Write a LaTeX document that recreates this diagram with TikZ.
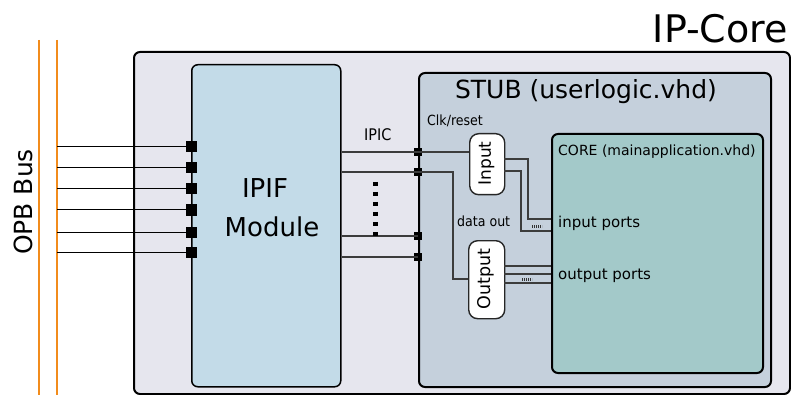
\documentclass[tikz,border=0pt]{standalone}
\usepackage{fontspec}
\setmainfont{DejaVu Sans}
\newfontfamily\condfont{DejaVu Sans Condensed}
\definecolor{orangec}{HTML}{F28C1C}
\definecolor{outerc}{HTML}{E6E6EE}
\definecolor{ipifc}{HTML}{C3DBE8}
\definecolor{stubc}{HTML}{C5D0DC}
\definecolor{corec}{HTML}{A3C9C9}
\definecolor{wirec}{HTML}{3C3C3C}
\begin{document}
\begin{tikzpicture}[x=1pt,y=-1pt,
  box/.style={draw=black, rounded corners=6pt, inner sep=0pt, anchor=north west},
  portbox/.style={draw=black!85, fill=white, rounded corners=9pt, inner sep=0pt, anchor=north west, line width=1.4pt},
  term/.style={fill=black, minimum size=8pt, inner sep=0pt},
  bigterm/.style={fill=black, minimum size=11pt, inner sep=0pt},
  wire/.style={draw=wirec, line width=1.4pt},
  buswire/.style={draw=black, line width=1pt},
  orangebus/.style={draw=orangec, line width=1.6pt},
  lbl/.style={inner sep=0pt, anchor=base west},
  ticks/.style={draw=black!80, line width=3pt, dash pattern=on 0.7pt off 1.3pt}]
\useasboundingbox (0,0) rectangle (791,395);
% boxes
\node[box, fill=outerc, line width=2pt, minimum width=656pt, minimum height=342pt] (ipcore) at (133,51) {};
\node[box, fill=ipifc, line width=1.5pt, minimum width=149pt, minimum height=322pt] (ipif) at (191,64) {};
\node[box, fill=stubc, line width=2pt, minimum width=352pt, minimum height=314pt] (stub) at (418,72) {};
\node[box, fill=corec, line width=2pt, minimum width=211pt, minimum height=239pt] (core) at (551,133) {};
\node[portbox, minimum width=35pt, minimum height=61pt] (inbox) at (469,133) {};
\node[portbox, minimum width=36pt, minimum height=78pt] (outbox) at (468,240) {};
% orange bus lines
\coordinate (oa1) at (39,40); \coordinate (oa2) at (39,395);
\coordinate (ob1) at (57,40); \coordinate (ob2) at (57,395);
\draw[orangebus] (oa1) -- (oa2);
\draw[orangebus] (ob1) -- (ob2);
% bus terminals
\foreach \i/\y in {1/147,2/168,3/189,4/210,5/232,6/252}{
  \coordinate (bs\i) at (57,\y);
  \node[bigterm] (bt\i) at (191,\y) {};
  \draw[buswire] (bs\i) -- (bt\i.center);
}
% stub terminals
\foreach \i/\y in {1/152,2/172,3/236,4/257}{
  \node[term] (st\i) at (418,\y) {};
  \draw[wire] (st\i -| ipif.east) -- (st\i.center);
}
% dots between IPIF and stub
\coordinate (vd1) at (375,182); \coordinate (vd2) at (375,241);
\draw[line width=5pt, dash pattern=on 3.6pt off 6.4pt] (vd1) -- (vd2);
% internal stub wires
\draw[wire] (st1.center) -- (st1 -| inbox.west);
\coordinate (k1) at (453,279);
\draw[wire] (st2.center) -| (k1) -- (k1 -| outbox.west);
% input to core
\coordinate (ia) at (504,159); \coordinate (ca) at (551,219);
\coordinate (ib) at (504,171); \coordinate (cb) at (551,231);
\draw[wire] (ia) -- (528,159) |- (ca);
\draw[wire] (ib) -- (521,171) |- (cb);
\coordinate (tk1) at (532,226); \coordinate (tk2) at (542,226);
\draw[ticks] (tk1) -- (tk2);
% output to core
\foreach \i/\y in {1/266,2/274,3/283}{
  \coordinate (oo\i) at (504,\y);
  \draw[wire] (oo\i) -- (oo\i -| core.west);
}
\coordinate (tk3) at (522,279); \coordinate (tk4) at (532,279);
\draw[ticks] (tk3) -- (tk4);
% texts
\node[inner sep=0pt, anchor=base east, font=\fontsize{38}{44}\selectfont] (tip) at (788,43) {IP-Core};
\node[inner sep=0pt, anchor=base, font=\fontsize{25}{30}\selectfont] (tstub) at (586,99) {STUB (userlogic.vhd)};
\node[lbl, font=\condfont\fontsize{14}{16}\selectfont] (tclk) at (427,126) {Clk/reset};
\node[lbl, font=\condfont\fontsize{16}{18}\selectfont] (tipic) at (364,141) {IPIC};
\node[lbl, font=\condfont\fontsize{14}{16}\selectfont] (tdata) at (457,226) {data out};
\node[lbl, font=\fontsize{14}{16}\selectfont] (tcore) at (558,156) {CORE (mainapplication.vhd)};
\node[lbl, font=\fontsize{15}{18}\selectfont] (tin) at (558,227) {input ports};
\node[lbl, font=\fontsize{15}{18}\selectfont] (tout) at (558,279) {output ports};
\node[inner sep=0pt, anchor=base, font=\fontsize{26}{30}\selectfont] (tipif) at (265,198) {IPIF};
\node[inner sep=0pt, anchor=base, font=\fontsize{26}{30}\selectfont] (tmod) at (272,236) {Module};
\node[inner sep=0pt, rotate=90, font=\fontsize{17}{20}\selectfont] (tinput) at (486.5,163.5) {Input};
\node[inner sep=0pt, rotate=90, font=\fontsize{17.5}{20}\selectfont] (toutput) at (486,279) {Output};
\node[inner sep=0pt, rotate=90, font=\fontsize{25}{28}\selectfont] (topb) at (23.5,202) {OPB Bus};
\end{tikzpicture}
\end{document}
